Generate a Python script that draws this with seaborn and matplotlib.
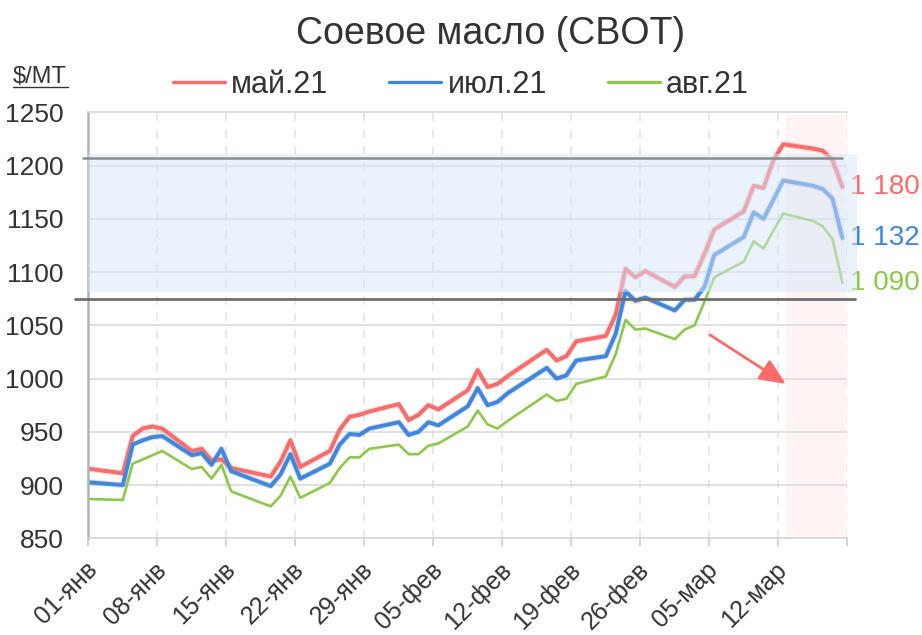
import matplotlib.pyplot as plt
import matplotlib.patheffects as pe
from matplotlib.lines import Line2D
from matplotlib.transforms import ScaledTranslation
import pandas as pd
import seaborn as sns

# trading days (CBOT), values in $/MT
dates = ["2020-12-31",
         "2021-01-04", "2021-01-05", "2021-01-06", "2021-01-07", "2021-01-08",
         "2021-01-11", "2021-01-12", "2021-01-13", "2021-01-14", "2021-01-15",
         "2021-01-19", "2021-01-20", "2021-01-21", "2021-01-22",
         "2021-01-25", "2021-01-26", "2021-01-27", "2021-01-28", "2021-01-29",
         "2021-02-01", "2021-02-02", "2021-02-03", "2021-02-04", "2021-02-05",
         "2021-02-08", "2021-02-09", "2021-02-10", "2021-02-11", "2021-02-12",
         "2021-02-16", "2021-02-17", "2021-02-18", "2021-02-19",
         "2021-02-22", "2021-02-23", "2021-02-24", "2021-02-25", "2021-02-26",
         "2021-03-01", "2021-03-02", "2021-03-03", "2021-03-04", "2021-03-05",
         "2021-03-08", "2021-03-09", "2021-03-10", "2021-03-11", "2021-03-12",
         "2021-03-15", "2021-03-16", "2021-03-17", "2021-03-18"]

may21 = [916,
         911, 946, 953, 955, 953,
         932, 934, 923, 924, 916,
         908, 922, 942, 917,
         932, 952, 964, 966, 969,
         976, 961, 966, 975, 971,
         989, 1008, 992, 995, 1002,
         1027, 1017, 1021, 1035,
         1040, 1060, 1103, 1095, 1101,
         1086, 1096, 1096, 1117, 1140,
         1157, 1181, 1179, 1205, 1220,
         1216, 1214, 1205, 1180]

jul21 = [903,
         900, 938, 942, 945, 946,
         928, 930, 919, 934, 913,
         899, 910, 929, 906,
         920, 938, 948, 947, 953,
         959, 947, 950, 959, 956,
         974, 991, 975, 978, 986,
         1010, 1000, 1003, 1017,
         1021, 1042, 1082, 1073, 1076,
         1064, 1074, 1074, 1086, 1116,
         1133, 1156, 1150, 1168, 1186,
         1181, 1178, 1169, 1132]

aug21 = [887,
         886, 920, 924, 928, 932,
         915, 917, 906, 919, 894,
         880, 890, 908, 888,
         902, 916, 926, 926, 934,
         938, 929, 929, 937, 939,
         955, 970, 957, 953, 960,
         985, 979, 981, 995,
         1002, 1023, 1055, 1046, 1047,
         1037, 1046, 1050, 1072, 1095,
         1110, 1129, 1122, 1139, 1155,
         1148, 1143, 1131, 1090]

series_names = ["май.21", "июл.21", "авг.21"]
series_colors = ["#FF6B6B", "#3D87E0", "#8CC84B"]

tick_labels = ["01-янв", "08-янв", "15-янв", "22-янв", "29-янв", "05-фев",
               "12-фев", "19-фев", "26-фев", "05-мар", "12-мар", ""]
y_ticks = [850, 900, 950, 1000, 1050, 1100, 1150, 1200, 1250]

band_low, band_high = 1081, 1211
level_high, level_low = 1207, 1075

sns.set_theme(style="white")
plt.rcParams["font.family"] = ["Liberation Sans", "DejaVu Sans"]
text_color = "#333333"

# points sit in the middle of each day, as in the source chart
df = pd.DataFrame({"date": pd.to_datetime(dates) + pd.Timedelta(hours=12),
                   series_names[0]: may21,
                   series_names[1]: jul21,
                   series_names[2]: aug21})
long_df = df.melt(id_vars="date", var_name="contract", value_name="price")

fig, ax = plt.subplots(figsize=(9.22, 6.35), dpi=100)
fig.subplots_adjust(left=0.0958, right=0.919, bottom=0.1523, top=0.8231)

x_start, x_end = pd.Timestamp("2021-01-01"), pd.Timestamp("2021-03-19")

widths = [2.8, 2.8, 1.9]
for name, color, lw in zip(series_names, series_colors, widths):
    sub = long_df[long_df["contract"] == name]
    sns.lineplot(data=sub, x="date", y="price", color=color, linewidth=lw,
                 ax=ax, zorder=2, legend=False)
    if lw > 2:
        ax.lines[-1].set_path_effects([
            pe.Stroke(linewidth=lw + 1.6, foreground="#9a9a9a", alpha=0.3),
            pe.Normal()])

# highlighted last week
ax.axvspan(pd.Timestamp("2021-03-12 18:30"), pd.Timestamp("2021-03-18 18:30"),
           ymax=0.993, color="#FFF3F3", lw=0, zorder=0.4)

# price corridor
ax.axhspan(band_low, band_high, xmin=0, xmax=1.013, facecolor=(0.845, 0.9, 0.98),
           alpha=0.5, lw=0, zorder=4, clip_on=False)
ax.axhline(level_high, xmin=-0.007, xmax=0.993, color="#8c8c8c", lw=1.8,
           zorder=5, clip_on=False)
ax.axhline(level_low, xmin=-0.017, xmax=1.01, color="#6e6e6e", lw=2,
           zorder=5, clip_on=False)

ax.annotate("", xy=(pd.Timestamp("2021-03-12 18:30"), 995),
            xytext=(pd.Timestamp("2021-03-05 01:30"), 1041),
            arrowprops=dict(arrowstyle="-|>,head_length=0.8,head_width=0.35",
                            color="#FF6B6B", lw=2, mutation_scale=20,
                            shrinkA=0, shrinkB=0), zorder=6)

# last values at the right edge
for vals, color in zip([may21, jul21, aug21], series_colors):
    last = vals[-1]
    ax.annotate(f"{last:,.0f}".replace(",", " "), xy=(x_end, last),
                xytext=(2, 0), textcoords="offset points", ha="left", va="center",
                fontsize=20, color=color, annotation_clip=False, zorder=3)

ax.set_xlim(x_start, x_end)
ax.set_ylim(850, 1250)
ax.set_yticks(y_ticks)
ax.set_xticks(pd.date_range(x_start, x_end, freq="7D"))
ax.set_xticklabels(tick_labels)
ax.set_xlabel("")
ax.set_ylabel("")

ax.tick_params(axis="y", length=0, pad=18, labelsize=19, labelcolor=text_color)
ax.tick_params(axis="x", bottom=True, length=6, width=1.2, color="#cccccc",
               pad=14, labelsize=18, labelcolor=text_color)
shift = ScaledTranslation(5 / 100, 0, fig.dpi_scale_trans)
for lab in ax.get_xticklabels():
    lab.set(rotation=45, ha="right", va="center", rotation_mode="anchor")
    lab.set_transform(lab.get_transform() + shift)

ax.grid(axis="y", color="#dcdcdc", lw=1.2)
ax.grid(axis="x", color="#e3e3e3", lw=1.2, linestyle=(0, (5, 5)))
ax.spines["left"].set_color("#b3b3b3")
ax.spines["left"].set_linewidth(1.8)
ax.spines["bottom"].set_color("#d5d5d5")
ax.spines["bottom"].set_linewidth(1.2)
ax.spines["top"].set_color("#dcdcdc")
ax.spines["top"].set_linewidth(1.2)
ax.spines["right"].set_visible(False)

handles = [Line2D([], [], color=c, lw=2.4) for c in series_colors]
ax.legend(handles, series_names, ncol=3, loc="center", bbox_to_anchor=(0.5, 0.866),
          bbox_transform=fig.transFigure, frameon=False, fontsize=22,
          handlelength=1.7, handletextpad=0.2, columnspacing=2.0,
          labelcolor=text_color)

fig.text(0.532, 0.931, "Соевое масло (CBOT)", ha="center", va="baseline",
         fontsize=27, color=text_color)
fig.text(13 / 922, 1 - 83 / 635, r"\$/MT", ha="left", va="baseline",
         fontsize=17, color=text_color)
fig.add_artist(Line2D([13 / 922, 68 / 922], [1 - 87 / 635] * 2,
                      color=text_color, lw=1))

plt.savefig("out.png", dpi=100)
plt.close()
